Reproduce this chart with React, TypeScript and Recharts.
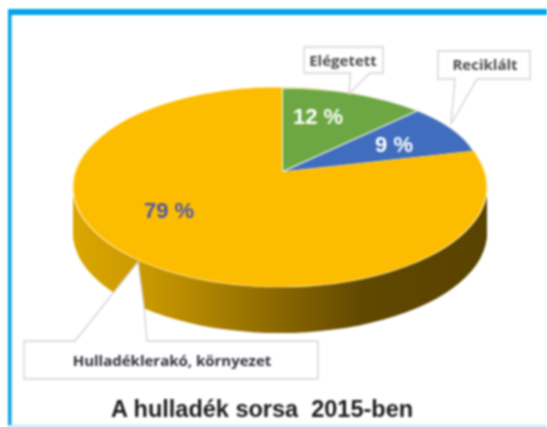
import { Cell, Pie, PieChart, Sector } from "recharts";

const categories = ["Elégetett", "Reciklált", "Hulladéklerakó, környezet"];
const shares = [12, 9, 79];
const colors = ["#6CA743", "#406DBE", "#FCBD00"];
const chartTitle = "A hulladék sorsa  2015-ben";

const wasteData = categories.map((name, i) => ({ name, value: shares[i] }));
const wholeDisc = [{ name: "all", value: 100 }];

// the side wall is a stack of flat discs, lowest first
const wallOffsets = [46, 44, 42, 40, 38, 36, 34, 32, 30, 28, 26, 24, 22, 20, 18, 16, 14, 12, 10, 8, 6, 4, 2];

// flatten each sector around its own centre so the circle turns into an ellipse
const flatShape = (ratio: number) => (props: any) => {
  const { cx, cy } = props;
  return (
    <g transform={`translate(${cx} ${cy}) scale(1 ${ratio}) translate(${-cx} ${-cy})`}>
      <Sector {...props} />
    </g>
  );
};

function Callout({ d }: { d: string }) {
  return <path d={d} fill="#fff" stroke="#d4d4d4" strokeWidth={1.4} />;
}

export default function App() {
  const labelFont = "'Open Sans', sans-serif";
  const numFont = "'Liberation Sans', Arial, sans-serif";
  return (
    <div
      style={{
        position: "absolute",
        left: 0,
        top: 0,
        width: 547,
        height: 427,
        overflow: "hidden",
        background: "#fff",
        filter: "blur(0.8px)",
      }}
    >
      <PieChart width={547} height={427} margin={{ top: 0, right: 0, bottom: 0, left: 0 }}>
        <defs>
          <linearGradient id="wall" gradientUnits="userSpaceOnUse" x1={72} y1={0} x2={487} y2={0}>
            <stop offset="0" stopColor="#DBA600" />
            <stop offset="0.2" stopColor="#C69600" />
            <stop offset="0.42" stopColor="#9A7400" />
            <stop offset="0.7" stopColor="#604800" />
            <stop offset="1" stopColor="#5A4300" />
          </linearGradient>
        </defs>

        {wallOffsets.map((off) => (
          <Pie
            key={off}
            data={wholeDisc}
            dataKey="value"
            cx={280}
            cy={187 + off}
            outerRadius={207}
            startAngle={90}
            endAngle={-270}
            stroke="none"
            fill="url(#wall)"
            shape={flatShape(100 / 207)}
            isAnimationActive={false}
          />
        ))}

        <Pie
          data={wholeDisc}
          dataKey="value"
          cx={280}
          cy={187}
          outerRadius={207}
          startAngle={90}
          endAngle={-270}
          fill={colors[2]}
          stroke="#FFE9A8"
          strokeWidth={1.5}
          shape={flatShape(100 / 207)}
          isAnimationActive={false}
        />

        <Pie
          data={wasteData}
          dataKey="value"
          cx={282}
          cy={172}
          outerRadius={198}
          startAngle={90}
          endAngle={-270}
          shape={flatShape(84 / 198)}
          isAnimationActive={false}
        >
          {wasteData.map((d, i) => (
            <Cell
              key={d.name}
              fill={colors[i]}
              stroke={i === 2 ? "none" : "#F4F4F0"}
              strokeWidth={i === 2 ? 0 : 2}
            />
          ))}
        </Pie>
      </PieChart>

      <svg width={547} height={427} style={{ position: "absolute", left: 0, top: 0 }}>
        <rect x={8} y={9} width={539} height={6} fill="#00A3E8" />
        <rect x={8} y={9} width={3.5} height={418} fill="#00A3E8" />
        <rect x={8} y={425} width={539} height={2} fill="#BFE4F4" />

        <Callout d="M304 47 H383 V73 H370 L349 94 L350.5 73 H304 Z" />
        <Callout d="M438 51 H530 V79 H477 L451 124 L455 79 H438 Z" />
        <Callout d="M24 341 H75 L138 262 L144 307 L147 341 H318 V379 H24 Z" />

        <text x={343} y={66} textAnchor="middle" fontFamily={labelFont} fontWeight={700} fontSize={15} fill="#4A4A4A">
          {categories[0]}
        </text>
        <text x={485} y={70} textAnchor="middle" fontFamily={labelFont} fontWeight={700} fontSize={15} fill="#4A4A4A">
          {categories[1]}
        </text>
        <text x={172} y={366} textAnchor="middle" fontFamily={labelFont} fontWeight={700} fontSize={15} fill="#2F2F3A">
          {categories[2]}
        </text>

        <text x={318} y={124} textAnchor="middle" fontFamily={numFont} fontWeight={700} fontSize={22} fill="#fff">
          {shares[0]} %
        </text>
        <text x={394} y={152} textAnchor="middle" fontFamily={numFont} fontWeight={700} fontSize={22} fill="#fff">
          {shares[1]} %
        </text>
        <text x={169} y={218} textAnchor="middle" fontFamily={numFont} fontWeight={700} fontSize={22} fill="#4F56A6">
          {shares[2]} %
        </text>

        <text
          x={262}
          y={417}
          textAnchor="middle"
          fontFamily={numFont}
          fontWeight={700}
          fontSize={23.5}
          fill="#1C1C1C"
          style={{ whiteSpace: "pre" }}
        >
          {chartTitle}
        </text>
      </svg>
    </div>
  );
}
